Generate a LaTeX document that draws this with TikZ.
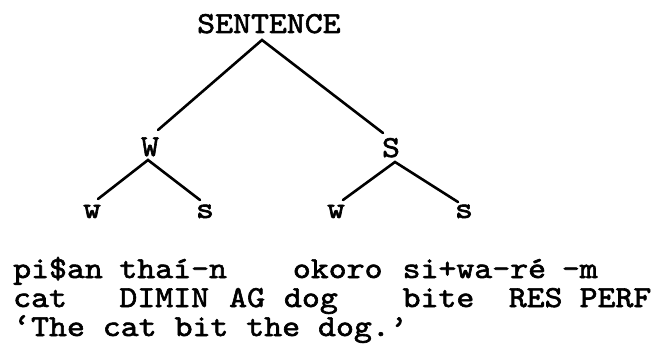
\documentclass[tikz,border=0pt]{standalone}
\usepackage{fontspec}
\newfontfamily\tw{lmmono10-regular.otf}[FakeStretch=1.12,FakeBold=2]
\begin{document}
\begin{tikzpicture}[x=1pt,y=-1pt,
  lab/.style={font=\tw\fontsize{30.5}{30.5}\selectfont, inner sep=0pt, anchor=base west},
  tl/.style={font=\tw\fontsize{30.5}{30.5}\selectfont, inner sep=0pt, anchor=base},
  branch/.style={line width=2.6pt, line cap=round}]
\useasboundingbox[fill=white] (0,0) rectangle (658,345);
\def\px{17.7}
% tree labels
\node[lab] (sent) at (197,33) {SENTENCE};
\node[tl] (W) at (150,156) {W};
\node[tl] (S) at (391,157) {S};
\node[tl] (w1) at (92,218) {w};
\node[tl] (s1) at (205,218) {s};
\node[tl] (w2) at (336,218) {w};
\node[tl] (s2) at (464,218) {s};
% branch end points
\coordinate (top) at (262,40);
\coordinate (Wt) at (158,130);
\coordinate (St) at (383,133);
\coordinate (Wb) at (148,160);
\coordinate (w1t) at (98,199);
\coordinate (s1t) at (200,200);
\coordinate (Sb) at (395,162);
\coordinate (w2t) at (343,200);
\coordinate (s2t) at (458,202);
\draw[branch] (Wt) -- (top) -- (St);
\draw[branch] (w1t) -- (Wb) -- (s1t);
\draw[branch] (w2t) -- (Sb) -- (s2t);
% gloss lines
\node[lab] (a1) at ({13+\px*0},278) {pi\$an};
\node[lab] (a2) at ({13+\px*6},278) {thaí-n};
\node[lab] (a3) at ({13+\px*15.8},278) {okoro};
\node[lab] (a4) at ({13+\px*22},278) {si+wa-ré};
\node[lab] (a5) at ({13+\px*31},278) {-m};
\node[lab] (b1) at ({13+\px*0},307) {cat};
\node[lab] (b2) at ({13+\px*6},307) {DIMIN};
\node[lab] (b3) at ({13+\px*12.2},307) {AG};
\node[lab] (b4) at ({13+\px*15.3},307) {dog};
\node[lab] (b5) at ({13+\px*22},307) {bite};
\node[lab] (b6) at ({13+\px*28},307) {RES};
\node[lab] (b7) at ({13+\px*32},307) {PERF};
\node[lab] (c1) at ({13+\px*0},336) {‘The cat bit the dog.’};
\end{tikzpicture}
\end{document}
